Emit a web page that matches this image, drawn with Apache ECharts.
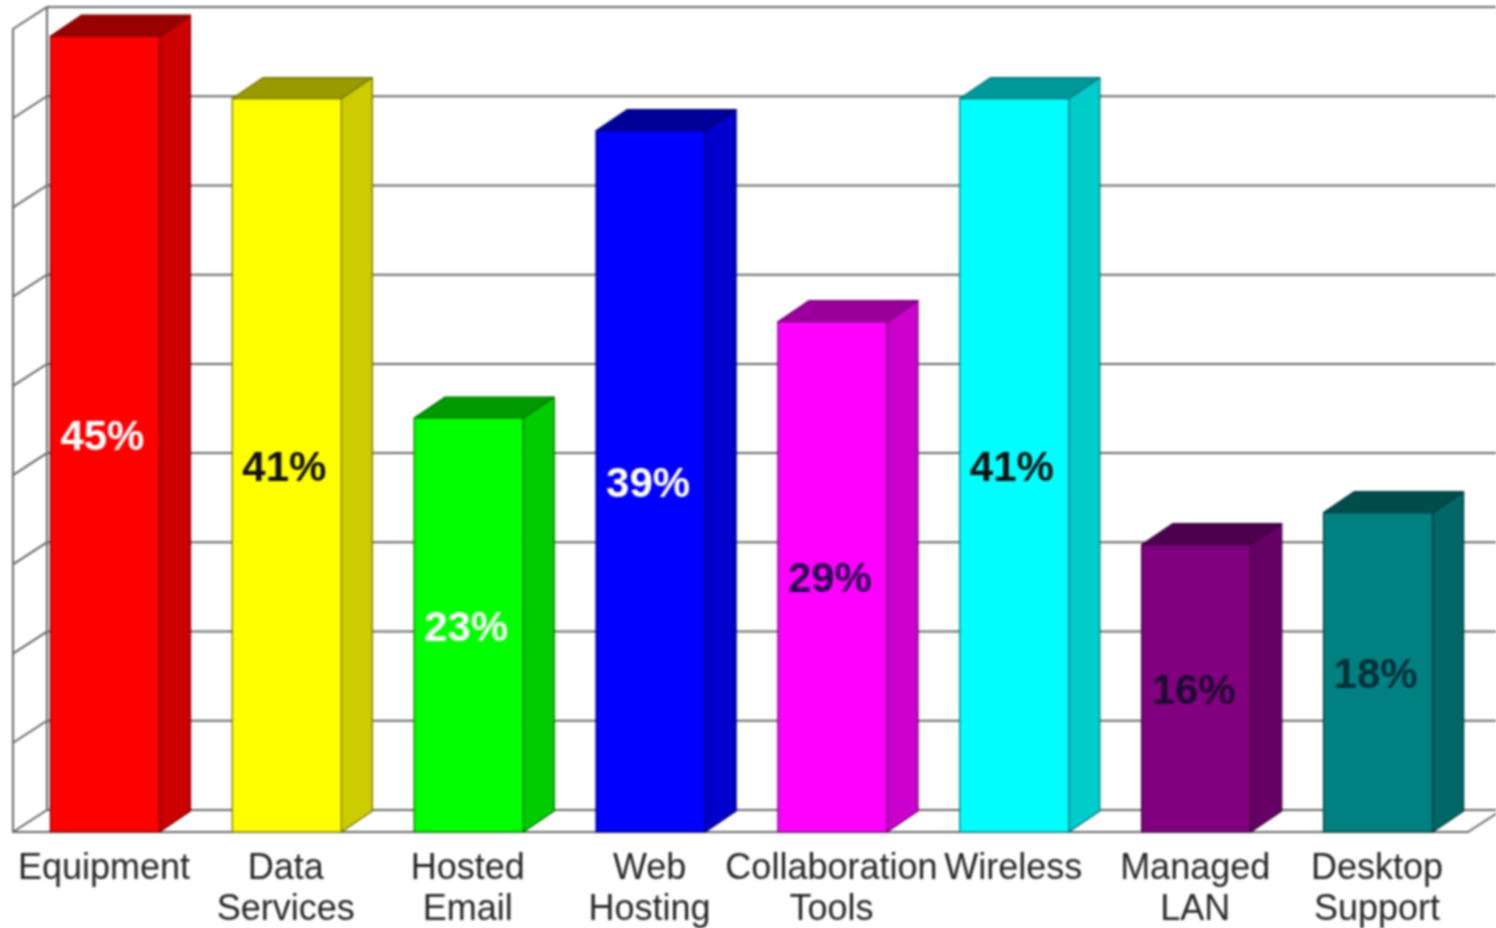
<!DOCTYPE html>
<html><head><meta charset="utf-8">
<style>html,body{margin:0;padding:0;background:#fff;overflow:hidden}#c{width:1496px;height:928px;filter:blur(0.8px)}</style>
<script src="https://cdn.jsdelivr.net/npm/echarts@6/dist/echarts.min.js"></script>
</head><body><div id="c"></div>
<script>
const categories = ['Equipment','Data\nServices','Hosted\nEmail','Web\nHosting','Collaboration\nTools','Wireless','Managed\nLAN','Desktop\nSupport'];
const values = [44.6,41.1,23.2,39.3,28.6,41.1,16.1,17.9];
const barColors = ['#ff0000','#ffff00','#00ff00','#0000ff','#ff00ff','#00ffff','#800080','#008080'];
const labelColors = ['#ffffff','#111111','#ffffff','#ffffff','#2a0050','#111111','#1e0a2e','#06303a'];
const yTicks = [0,5,10,15,20,25,30,35,40,45];

const WALL_DX = 34, WALL_DY = 22, BAR_DX = 31, BAR_DY = 21, BAR_RATIO = 0.6;
const AXIS_COLOR = '#686868';
const chart = echarts.init(document.getElementById('c'), null, {renderer:'canvas'});

function shade(hex, f){
  const n = parseInt(hex.slice(1), 16);
  const r = Math.round((n>>16 & 255)*f), g = Math.round((n>>8 & 255)*f), b = Math.round((n & 255)*f);
  return 'rgb('+r+','+g+','+b+')';
}
function wall(params, api){
  const v = api.value(0), y = api.coord([0, v])[1], g = params.coordSys;
  const x0 = g.x, x1 = g.x + g.width;
  const lineStyle = {stroke:AXIS_COLOR, lineWidth:2, fill:null};
  return {type:'polyline', silent:true,
    shape:{points:[[x0,y],[x0+WALL_DX,y-WALL_DY],[x1+WALL_DX,y-WALL_DY]]},
    style:lineStyle};
}
function backEdges(params, api){
  const g = params.coordSys, x0 = g.x + WALL_DX, x1 = g.x + g.width;
  const yB = api.coord([0, yTicks[0]])[1], yT = api.coord([0, yTicks[yTicks.length-1]])[1];
  const st = {stroke:AXIS_COLOR, lineWidth:2, fill:null};
  return {type:'group', silent:true, children:[
    {type:'line', shape:{x1:x0,y1:yB-WALL_DY,x2:x0,y2:yT-WALL_DY}, style:st},
    {type:'line', shape:{x1:x1,y1:yB,x2:x1+WALL_DX,y2:yB-WALL_DY}, style:st}
  ]};
}
function bar(params, api){
  const i = api.value(0), v = api.value(1);
  const top = api.coord([i, v]), base = api.coord([i, 0]);
  const w = api.size([1,0])[0] * BAR_RATIO;
  const L = top[0] - w/2 + 1, R = L + w, T = top[1], B = base[1];
  const c = barColors[i];
  const stroke = {stroke:shade(c,0.45), lineWidth:1.2, lineJoin:'round'};
  return {type:'group', children:[
    {type:'polygon', shape:{points:[[R,B],[R+BAR_DX,B-BAR_DY],[R+BAR_DX,T-BAR_DY],[R,T]]},
      style:Object.assign({fill:shade(c,0.8)},stroke)},
    {type:'polygon', shape:{points:[[L,T],[L+BAR_DX,T-BAR_DY],[R+BAR_DX,T-BAR_DY],[R,T]]},
      style:Object.assign({fill:shade(c,0.6)},stroke)},
    {type:'rect', shape:{x:L,y:T,width:w,height:B-T},
      style:Object.assign({fill:c},stroke)},
    {type:'text', z2:10, x:(L+R)/2-2.5, y:(T+B)/2+4,
      style:{text:Math.round(v)+'%', fill:labelColors[i], font:'bold 42px "Liberation Sans", Arial, sans-serif',
        align:'center', verticalAlign:'middle'}}
  ]};
}

chart.setOption({
  animation:false,
  backgroundColor:'#ffffff',
  grid:{left:13, top:29, width:1455, height:803, outerBoundsMode:'none'},
  xAxis:{type:'category', data:categories,
    axisLine:{show:true,onZero:false,lineStyle:{color:AXIS_COLOR,width:2}},
    axisTick:{show:false},
    axisLabel:{interval:0, margin:17, color:'#262626', fontFamily:'"Liberation Sans", Arial, sans-serif',
      fontSize:36, lineHeight:41, hideOverlap:false}},
  yAxis:{type:'value', min:0, max:45, interval:5,
    axisLine:{show:true,lineStyle:{color:AXIS_COLOR,width:2}},
    axisTick:{show:false}, axisLabel:{show:false}, splitLine:{show:false}},
  series:[
    {type:'custom', z:1, clip:false, coordinateSystem:'cartesian2d', encode:{y:0},
      data:yTicks.map(t=>[t]), renderItem:wall, silent:true},
    {type:'custom', z:1, clip:false, coordinateSystem:'cartesian2d', encode:{y:0},
      data:[[0]], renderItem:backEdges, silent:true},
    {type:'custom', z:3, clip:false, coordinateSystem:'cartesian2d', encode:{x:0,y:1},
      data:values.map((v,i)=>[i,v]), renderItem:bar}
  ]
});
</script></body></html>
